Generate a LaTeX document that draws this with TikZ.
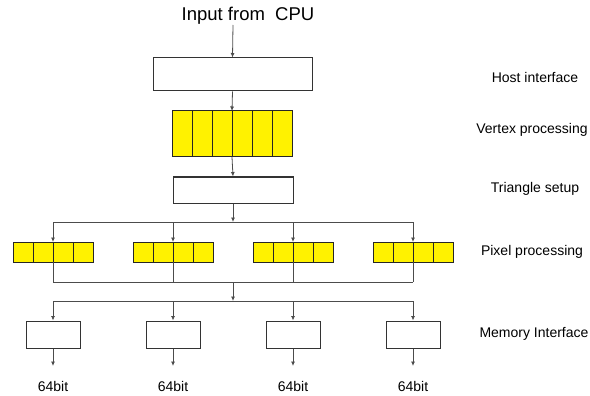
\documentclass[tikz,border=0pt]{standalone}
\usepackage{fontspec}
\setmainfont{Liberation Sans}
\usetikzlibrary{arrows.meta}
\begin{document}
\begin{tikzpicture}[x=1pt,y=-1pt,
  wire/.style={draw=black!70,line width=0.8pt},
  arr/.style={wire,-{Latex[length=4.5pt,width=4pt]}},
  wbox/.style={draw=black!80,line width=1pt,fill=white,inner sep=0pt},
  cell/.style={draw=black!85,line width=1pt,fill=yellow,inner sep=0pt,minimum width=20pt},
  lab/.style={font=\fontsize{14}{16}\selectfont,inner sep=0pt},
  bus/.style={wire}]
\useasboundingbox (0,0) rectangle (590,396);
% input
\node[inner sep=0pt,font=\fontsize{18.5}{20}\selectfont] (cpu) at (248,16) {Input from~~CPU};
\coordinate (cpuout) at (233,25);
% host interface
\node[wbox,minimum width=159pt,minimum height=33pt] (host) at (232.5,74.5) {};
\draw[arr] (cpuout) -- (host.north);
% vertex processing
\foreach \i in {1,...,6}{
  \node[cell,minimum height=46pt] (v\i) at (162+20*\i,134) {};
}
\coordinate (vtop) at (232,111);
\coordinate (vbot) at (232,157);
\draw[arr] (host.south) -- (vtop);
% triangle setup
\node[wbox,minimum width=120pt,minimum height=26pt] (tri) at (233,190) {};
\draw[arr] (vbot) -- (tri.north);
% bus 1
\coordinate (b1l) at (53,222);
\coordinate (b1r) at (413,222);
\coordinate (b1m) at (233,222);
\draw[bus] (b1l) -- (b1r);
\draw[arr] (tri.south) -- (b1m);
% pixel processing blocks
\foreach \k in {0,1,2,3}{
  \foreach \j in {1,...,4}{
    \node[cell,minimum height=20pt] (p\k\j) at (13+120*\k+20*\j-10,252) {};
  }
  \coordinate (pt\k) at (53+120*\k,242);
  \coordinate (pb\k) at (53+120*\k,262);
  \coordinate (t\k) at (53+120*\k,222);
  \coordinate (u\k) at (53+120*\k,282);
  \draw[arr] (t\k) -- (pt\k);
  \draw[wire] (pb\k) -- (u\k);
}
% bus 2
\draw[bus] (u0) -- (u3);
\coordinate (b2m) at (233,282);
\coordinate (b3m) at (233,301);
\draw[arr] (b2m) -- (b3m);
% bus 3 and memory
\foreach \k in {0,1,2,3}{
  \coordinate (w\k) at (53+120*\k,301);
  \node[wbox,minimum width=54pt,minimum height=27pt] (m\k) at (53+120*\k,334.5) {};
  \coordinate (o\k) at (53+120*\k,366);
  \draw[arr] (w\k) -- (m\k.north);
  \draw[arr] (m\k.south) -- (o\k);
  \node[lab] (bit\k) at (53+120*\k,386) {64bit};
}
\draw[bus] (w0) -- (w3);
% right labels
\node[lab] (lhost) at (535,77) {Host interface};
\node[lab] (lvert) at (532,130) {Vertex processing};
\node[lab] (ltri) at (535,189) {Triangle setup};
\node[lab] (lpix) at (532,252) {Pixel processing};
\node[lab] (lmem) at (534,334) {Memory Interface};
\end{tikzpicture}
\end{document}
